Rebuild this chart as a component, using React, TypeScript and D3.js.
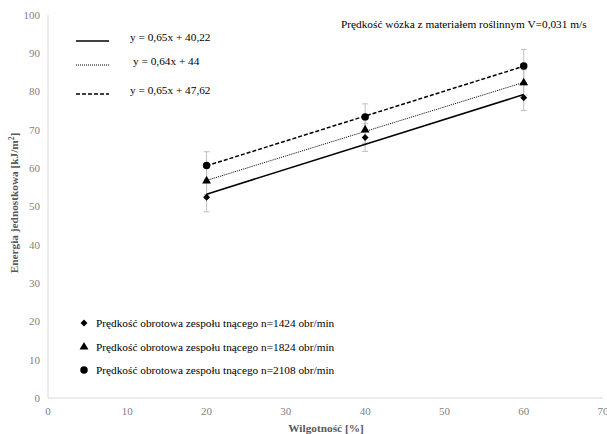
import React from 'react'
import * as d3 from 'd3'

const width = 607
const height = 434
const margin = { top: 15, right: 4, bottom: 36, left: 48 }

const xValues = [20, 40, 60]
const xTicks = [0, 10, 20, 30, 40, 50, 60, 70]
const yTicks = [0, 10, 20, 30, 40, 50, 60, 70, 80, 90, 100]

const seriesNames = [
  'Prędkość obrotowa zespołu tnącego n=1424 obr/min',
  'Prędkość obrotowa zespołu tnącego n=1824 obr/min',
  'Prędkość obrotowa zespołu tnącego n=2108 obr/min',
]
const values1424 = [52.4, 68.0, 78.4]
const values1824 = [56.7, 70.0, 82.3]
const values2108 = [60.7, 73.4, 86.7]
const errors1424 = [3.8, 3.6, 3.3]
const errors1824 = [3.6, 3.5, 3.4]
const errors2108 = [3.6, 3.4, 4.3]

// trend lines y = a*x + b
const trendLabels = ['y = 0,65x + 40,22', 'y = 0,64x + 44', 'y = 0,65x + 47,62']
const trendSlopes = [0.65, 0.64, 0.65]
const trendIntercepts = [40.22, 44, 47.62]

const titleText = 'Prędkość wózka z materiałem roślinnym V=0,031 m/s'
const xTitle = 'Wilgotność [%]'

const font = "'Liberation Serif', 'Times New Roman', Tinos, 'DejaVu Serif', serif"

const series = [
  { name: seriesNames[0], values: values1424, errors: errors1424, symbol: d3.symbolSquare, size: 24, rot: 45, dash: null, lw: 1.5 },
  { name: seriesNames[1], values: values1824, errors: errors1824, symbol: d3.symbolTriangle, size: 34, rot: 0, dash: '1,1', lw: 1 },
  { name: seriesNames[2], values: values2108, errors: errors2108, symbol: d3.symbolCircle, size: 44, rot: 0, dash: '4,2', lw: 1.5 },
]

const App = () => {
  const x = d3.scaleLinear().domain([0, 70]).range([margin.left, width - margin.right])
  const y = d3.scaleLinear().domain([0, 100]).range([height - margin.bottom, margin.top])

  const trendLine = (i: number) =>
    d3.line<number>()
      .x(d => x(d))
      .y(d => y(trendSlopes[i] * d + trendIntercepts[i]))([xValues[0], xValues[xValues.length - 1]])

  const legendTrendY = [41, 65, 94]
  const legendSeriesY = [323, 347, 370]

  return (
    <svg width={width} height={height}
      style={{ position: 'absolute', left: 0, top: 0, background: '#fff', fontFamily: font }}>
      {/* axes */}
      <line x1={x(0)} x2={x(0)} y1={y(0)} y2={y(100)} stroke='#d9d9d9' strokeWidth={1} />
      <line x1={x(0)} x2={x(70)} y1={y(0)} y2={y(0)} stroke='#d9d9d9' strokeWidth={1} />
      {yTicks.map(t => (
        <text key={'y' + t} x={x(0) - 8} y={y(t)} dy='0.35em' textAnchor='end'
          fontSize={11} fill='#7f7f7f'>{t}</text>
      ))}
      {xTicks.map(t => (
        <text key={'x' + t} x={x(t)} y={y(0) + 17} textAnchor='middle'
          fontSize={11} fill='#7f7f7f'>{t}</text>
      ))}
      <text x={326} y={432} textAnchor='middle' fontSize={11.3}
        fontWeight='bold' fill='#595959'>{xTitle}</text>
      <text transform={`translate(18, 203) rotate(-90)`} textAnchor='middle'
        fontSize={11.3} fontWeight='bold' fill='#595959'>
        Energia jednostkowa [kJ/m<tspan dy='-4' fontSize={7.5}>2</tspan><tspan dy='4'>]</tspan>
      </text>

      {/* error bars */}
      {series.map((s, si) => xValues.map((xv, i) => {
        const top = y(s.values[i] + s.errors[i])
        const bot = y(s.values[i] - s.errors[i])
        return (
          <g key={`e${si}-${i}`} stroke='#bfbfbf' strokeWidth={1}>
            <line x1={x(xv)} x2={x(xv)} y1={top} y2={bot} />
            <line x1={x(xv) - 3} x2={x(xv) + 3} y1={top} y2={top} />
            <line x1={x(xv) - 3} x2={x(xv) + 3} y1={bot} y2={bot} />
          </g>
        )
      }))}

      {/* trend lines */}
      {series.map((s, si) => (
        <path key={'t' + si} d={trendLine(si) ?? ''} fill='none' stroke='#000'
          strokeWidth={s.lw} strokeDasharray={s.dash ?? undefined} />
      ))}

      {/* markers */}
      {series.map((s, si) => xValues.map((xv, i) => (
        <path key={`m${si}-${i}`} d={d3.symbol(s.symbol, s.size)() ?? ''}
          transform={`translate(${x(xv)},${y(s.values[i])}) rotate(${s.rot})`} fill='#000' />
      )))}

      {/* trend legend */}
      {series.map((s, si) => (
        <g key={'lt' + si}>
          <line x1={76} x2={109} y1={legendTrendY[si]} y2={legendTrendY[si]} stroke='#000'
            strokeWidth={s.lw} strokeDasharray={s.dash ?? undefined} />
          <text x={si === 1 ? 133 : 130} y={legendTrendY[si]} fontSize={11.3}
            fill='#000'>{trendLabels[si]}</text>
        </g>
      ))}

      <text x={341} y={28} fontSize={11.3} fill='#000'>{titleText}</text>

      {/* series legend */}
      {series.map((s, si) => (
        <g key={'ls' + si}>
          <path d={d3.symbol(s.symbol, s.size)() ?? ''}
            transform={`translate(84,${legendSeriesY[si]}) rotate(${s.rot})`} fill='#000' />
          <text x={96} y={legendSeriesY[si]} dy='0.35em' fontSize={11.3} fill='#000'>{s.name}</text>
        </g>
      ))}
    </svg>
  )
}

export default App
